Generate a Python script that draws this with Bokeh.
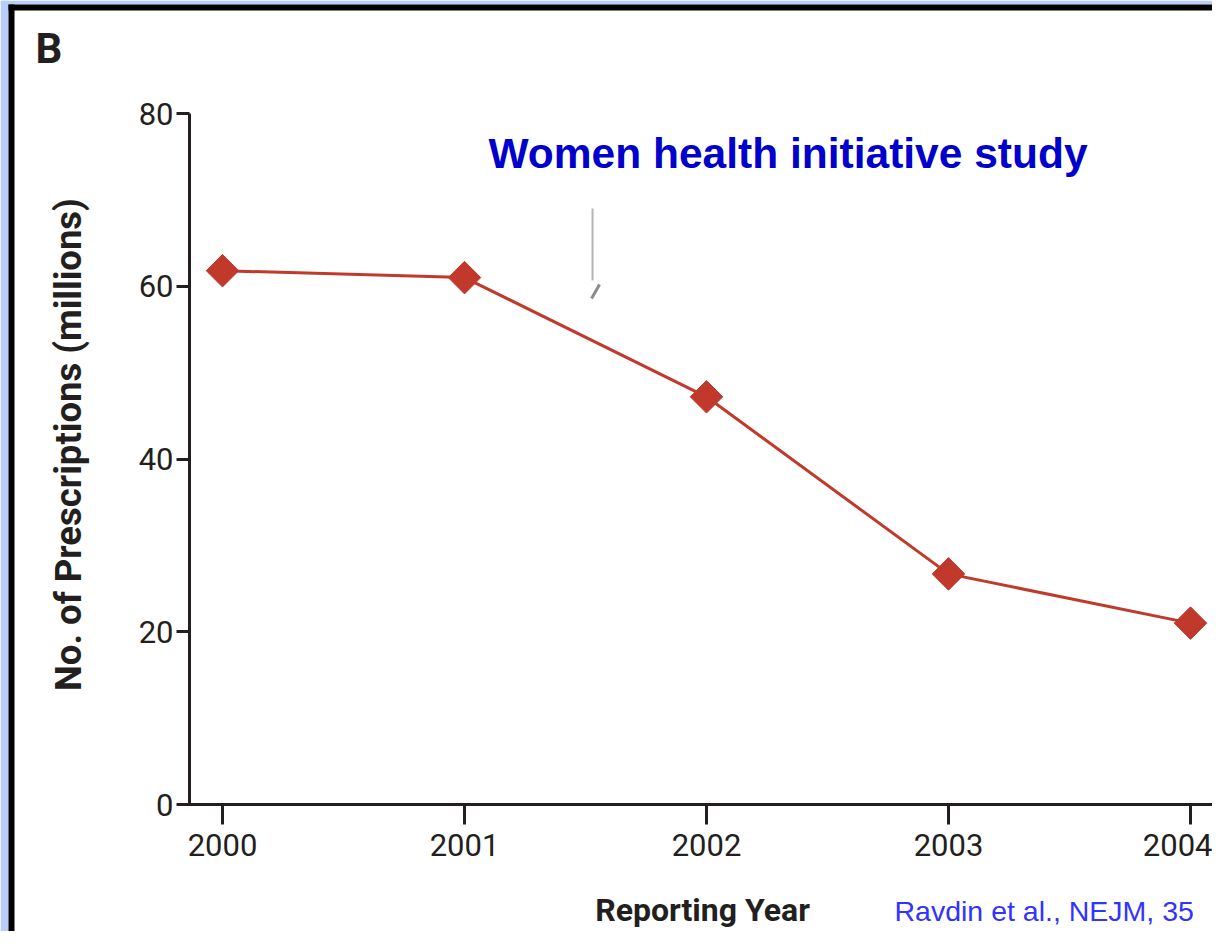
import math
from bokeh.plotting import figure
from bokeh.models import Range1d, FixedTicker, Label, BoxAnnotation
from bokeh.embed import file_html
from bokeh.resources import INLINE

# ---- data ----
years = [2000, 2001, 2002, 2003, 2004]
prescriptions = [61.8, 61.0, 47.2, 26.7, 21.0]   # millions
x_ticks = [2000, 2001, 2002, 2003, 2004]
y_ticks = [0, 20, 40, 60, 80]

# annotation pointer (WHI study): vertical bar + small slanted tick (data units)
whi_x0 = [2001.529, 2001.558]
whi_y0 = [69.0, 60.2]
whi_x1 = [2001.529, 2001.525]
whi_y1 = [60.67, 58.58]

RED = "#c0392b"
INK = "#231f20"
W, H = 1212, 931

# layout helpers: canvas pixel -> data position (frame fills the whole canvas)
def px2x(px):
    return 2000 + (px - 222) / 242.0

def py2y(py):
    return (804 - py) / 8.6375

# the renderer draws "alphabetic" text ~0.38 em lower than asked: compensate
def base(py, size):
    return py2y(py - 0.38 * size)

def base_x(px, size):  # for text rotated by +90 deg
    return px2x(px - 0.38 * size)

p = figure(width=W, height=H, output_backend="svg", toolbar_location=None,
           x_range=Range1d(px2x(0), px2x(W)), y_range=Range1d(py2y(H), py2y(0)),
           min_border=0, min_border_left=0, min_border_right=0,
           min_border_top=0, min_border_bottom=0)
p.title.visible = False
p.background_fill_color = "white"
p.border_fill_color = "white"
p.outline_line_color = None
p.xgrid.visible = False
p.ygrid.visible = False

for ax in (p.xaxis[0], p.yaxis[0]):
    ax.axis_line_width = 3
    ax.axis_line_color = INK
    ax.major_tick_line_width = 3
    ax.major_tick_line_color = INK
    ax.major_tick_in = 0
    ax.minor_tick_in = 0
    ax.minor_tick_out = 0
    ax.major_label_text_font = "Roboto"
    ax.major_label_text_font_size = "31px"
    ax.major_label_text_color = INK

p.xaxis.ticker = FixedTicker(ticks=x_ticks)
p.yaxis.ticker = FixedTicker(ticks=y_ticks)
p.xaxis.fixed_location = 0
p.xaxis.bounds = (px2x(188), px2x(1215))
p.yaxis.fixed_location = px2x(189)
p.yaxis.bounds = (0, 80)
p.xaxis.major_tick_out = 20
p.yaxis.major_tick_out = 13
p.xaxis.major_label_standoff = 9
p.yaxis.major_label_standoff = 3

# slide frame: light-blue margin + black border
for l, r, t, b, c in [(0, 8, 0, H, "#b9cdfc"), (0, W, 0, 4, "#b9cdfc"),
                      (8, 14, 4, H, "#000000"), (8, W, 4, 10, "#000000")]:
    p.add_layout(BoxAnnotation(left=px2x(l), right=px2x(r), top=py2y(t), bottom=py2y(b),
                               fill_color=c, fill_alpha=1.0, line_color=None))

# data
p.line(years, prescriptions, line_color=RED, line_width=3)
p.scatter(years, prescriptions, marker="square", angle=math.pi / 4, size=23,
          fill_color=RED, line_color=RED)

# pointer
p.segment(x0=whi_x0, y0=whi_y0, x1=whi_x1, y1=whi_y1,
          line_color=["#b3b3b3", "#8c8c8c"], line_width=[2, 3])

# texts
p.add_layout(Label(x=px2x(488), y=base(169, 42.5), text="Women health initiative study",
                   text_font="Liberation Sans", text_font_style="bold",
                   text_font_size="42.5px", text_color="#0000cc",
                   text_baseline="alphabetic", text_align="left"))
p.add_layout(Label(x=px2x(35), y=base(64, 42), text="B",
                   text_font="Roboto", text_font_style="bold",
                   text_font_size="42px", text_color=INK,
                   text_baseline="alphabetic", text_align="left"))
p.add_layout(Label(x=px2x(702), y=base(922, 32), text="Reporting Year",
                   text_font="Roboto", text_font_style="bold",
                   text_font_size="32px", text_color=INK,
                   text_baseline="alphabetic", text_align="center"))
p.add_layout(Label(x=base_x(82, 36.5), y=py2y(444), text="No. of Prescriptions (millions)",
                   angle=math.pi / 2,
                   text_font="Roboto", text_font_style="bold",
                   text_font_size="36.5px", text_color=INK,
                   text_baseline="alphabetic", text_align="center"))
p.add_layout(Label(x=px2x(894), y=base(921, 28.5), text="Ravdin et al., NEJM, 35",
                   text_font="Liberation Sans", text_font_size="28.5px",
                   text_color="#3333ff",
                   text_baseline="alphabetic", text_align="left"))

open("out.html", "w").write(file_html(p, INLINE))
